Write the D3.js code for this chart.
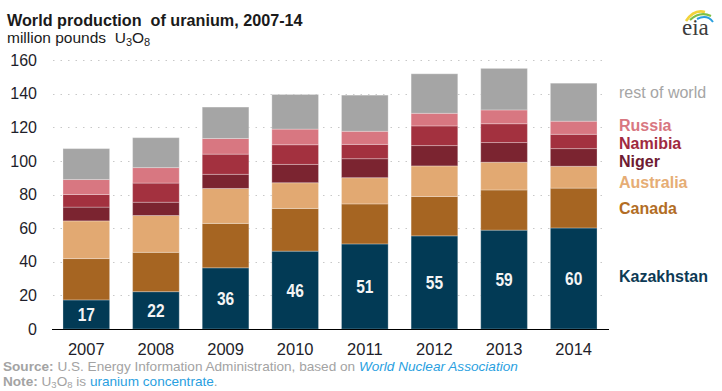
<!DOCTYPE html>
<html>
<head>
<meta charset="utf-8">
<script src="https://cdn.jsdelivr.net/npm/d3@7"></script>
<style>
  html, body { margin: 0; padding: 0; background: #fff; }
  svg { display: block; font-family: "Liberation Sans", Arial, sans-serif; }
</style>
</head>
<body>
<svg id="chart" width="722" height="391"></svg>
<script>
// ---- data (million pounds U3O8) ----
const years = ["2007", "2008", "2009", "2010", "2011", "2012", "2013", "2014"];
const kazakhstan  = [17.3, 22.2, 36.4, 46.3, 50.6, 55.4, 58.8, 60.1];
const canada      = [24.6, 23.4, 26.4, 25.4, 23.8, 23.4, 23.9, 23.7];
const australia   = [22.4, 21.9, 20.8, 15.3, 15.6, 18.2, 16.5, 13.0];
const niger       = [ 8.2,  7.9,  8.4, 10.9, 11.3, 12.1, 11.7, 10.5];
const namibia     = [ 7.5, 11.4, 12.0, 11.7,  8.5, 11.7, 11.2,  8.5];
const russia      = [ 8.9,  9.2,  9.3,  9.3,  7.8,  7.5,  8.2,  7.8];
const restOfWorld = [18.4, 17.8, 18.7, 20.6, 21.5, 23.5, 24.7, 22.6];
const seriesNames = ["Kazakhstan", "Canada", "Australia", "Niger", "Namibia", "Russia", "rest of world"];
const yTicks = [0, 20, 40, 60, 80, 100, 120, 140, 160];

// ---- styles ----
const colors = {
  "Kazakhstan": "#023a55",
  "Canada": "#a66522",
  "Australia": "#e2a972",
  "Niger": "#7b2430",
  "Namibia": "#a3313f",
  "Russia": "#d87781",
  "rest of world": "#a5a5a5"
};
const legendText = {
  "Kazakhstan": "#0d3a55",
  "Canada": "#b26d25",
  "Australia": "#e6ad75",
  "Niger": "#6e1b33",
  "Namibia": "#a02a40",
  "Russia": "#d87781",
  "rest of world": "#a5a5a5"
};
// small vertical nudges so legend labels don't collide (layout only)
const legendNudge = { "Kazakhstan": -2, "Canada": 0, "Australia": 5, "Niger": 4, "Namibia": 1.5, "Russia": -3, "rest of world": -9.5 };

const valuesByName = {
  "Kazakhstan": kazakhstan, "Canada": canada, "Australia": australia,
  "Niger": niger, "Namibia": namibia, "Russia": russia, "rest of world": restOfWorld
};
const rows = years.map((y, i) => {
  const r = { year: y };
  seriesNames.forEach(n => r[n] = valuesByName[n][i]);
  return r;
});
const stacked = d3.stack().keys(seriesNames)(rows);

const svg = d3.select("#chart");

const x = d3.scaleBand().domain(years).range([40, 620]).paddingInner(0.33).paddingOuter(0.33);
const y = d3.scaleLinear().domain([0, 160]).range([329, 60]);

// gridlines
svg.append("g").selectAll("line").data(yTicks.filter(t => t > 0)).join("line")
  .attr("x1", 53).attr("x2", 608)
  .attr("y1", d => Math.round(y(d)) + 0.5).attr("y2", d => Math.round(y(d)) + 0.5)
  .attr("stroke", "#c8c8c8").attr("stroke-width", 1)
  .attr("stroke-dasharray", "1.5,6");

// y axis labels
const yAxis = d3.axisLeft(y).tickValues(yTicks).tickSize(0).tickPadding(0);
const gy = svg.append("g").attr("transform", "translate(37,0)").call(yAxis);
gy.select(".domain").remove();
gy.selectAll("text").attr("font-size", 16).attr("fill", "#1e1e2a")
  .attr("font-family", "Liberation Sans, Arial, sans-serif");

// bars
svg.append("g").selectAll("g").data(stacked).join("g")
  .attr("fill", d => colors[d.key])
  .selectAll("rect").data(d => d).join("rect")
  .attr("x", d => x(d.data.year))
  .attr("width", x.bandwidth())
  .attr("y", d => y(d[1]))
  .attr("height", d => y(d[0]) - y(d[1]))
  .attr("stroke", "rgba(255,255,255,0.28)")
  .attr("stroke-width", 1);

// Kazakhstan value labels (narrow bold look)
svg.append("g").selectAll("text").data(stacked[0]).join("text")
  .attr("transform", d => `translate(${x(d.data.year) + x.bandwidth() / 2},${(y(d[0]) + y(d[1])) / 2}) scale(0.84,1)`)
  .attr("dy", "0.36em")
  .attr("text-anchor", "middle")
  .attr("font-family", "Liberation Sans, Arial, sans-serif")
  .attr("font-weight", "bold")
  .attr("font-size", 18.5)
  .attr("fill", "#f4f4f4")
  .text(d => d3.format(".0f")(d.data["Kazakhstan"]));

// baseline
svg.append("line").attr("x1", 52).attr("x2", 609)
  .attr("y1", y(0) + 0.5).attr("y2", y(0) + 0.5)
  .attr("stroke", "#000").attr("stroke-width", 1.2);

// x axis labels
const xAxis = d3.axisBottom(x).tickSize(0).tickPadding(0);
const gx = svg.append("g").attr("transform", `translate(0,${y(0)})`).call(xAxis);
gx.select(".domain").remove();
gx.selectAll("text").attr("font-size", 16.5).attr("fill", "#1e1e2a")
  .attr("dy", "0").attr("y", 26)
  .attr("font-family", "Liberation Sans, Arial, sans-serif");

// legend (aligned to the 2014 bar segments)
const last = years.length - 1;
svg.append("g").selectAll("text").data(stacked).join("text")
  .attr("x", 619)
  .attr("y", d => (y(d[last][0]) + y(d[last][1])) / 2 + legendNudge[d.key])
  .attr("dy", "0.36em")
  .attr("font-size", 16)
  .attr("font-weight", d => d.key === "rest of world" ? "normal" : "bold")
  .attr("fill", d => legendText[d.key])
  .text(d => d.key);

// title & subtitle
svg.append("text").attr("x", 7).attr("y", 26)
  .attr("font-size", 16.2).attr("font-weight", "bold").attr("fill", "#1a1a1a")
  .attr("xml:space", "preserve")
  .text("World production  of uranium, 2007-14");
const sub = svg.append("text").attr("x", 7).attr("y", 43)
  .attr("font-size", 15.5).attr("fill", "#1a1a1a").attr("xml:space", "preserve");
sub.append("tspan").text("million pounds  U");
sub.append("tspan").attr("font-size", 11).attr("dy", 3).text("3");
sub.append("tspan").attr("dy", -3).text("O");
sub.append("tspan").attr("font-size", 11).attr("dy", 3).text("8");

// footer
const src = svg.append("text").attr("x", 3).attr("y", 371).attr("font-size", 13.6).attr("fill", "#a3a3a3")
  .attr("xml:space", "preserve");
src.append("tspan").attr("font-weight", "bold").text("Source: ");
src.append("tspan").text("U.S. Energy Information Administration, based on ");
src.append("tspan").attr("font-style", "italic").attr("fill", "#2a9fdf").text("World Nuclear Association");

const note = svg.append("text").attr("x", 3).attr("y", 385.5).attr("font-size", 13.6).attr("fill", "#a3a3a3")
  .attr("xml:space", "preserve");
note.append("tspan").attr("font-weight", "bold").text("Note: ");
note.append("tspan").text("U");
note.append("tspan").attr("font-size", 9.5).attr("dy", 2.5).text("3");
note.append("tspan").attr("dy", -2.5).text("O");
note.append("tspan").attr("font-size", 9.5).attr("dy", 2.5).text("8");
note.append("tspan").attr("dy", -2.5).text(" is ");
note.append("tspan").attr("fill", "#2a9fdf").text("uranium concentrate");
note.append("tspan").text(".");

// EIA logo
const logo = svg.append("g");
logo.append("path").attr("d", "M686,21 Q694,9 705,12").attr("fill", "none").attr("stroke", "#f2d33a").attr("stroke-width", 2.6);
logo.append("path").attr("d", "M690,20 Q700,11 711,16").attr("fill", "none").attr("stroke", "#7fbf45").attr("stroke-width", 2.2);
logo.append("path").attr("d", "M697,19 Q707,14 713,22").attr("fill", "none").attr("stroke", "#2a9fdf").attr("stroke-width", 2);
logo.append("text").attr("x", 682).attr("y", 35)
  .attr("font-family", "Liberation Serif, DejaVu Serif, serif").attr("font-size", 23).attr("fill", "#3c3c3c")
  .text("eia");
</script>
</body>
</html>
